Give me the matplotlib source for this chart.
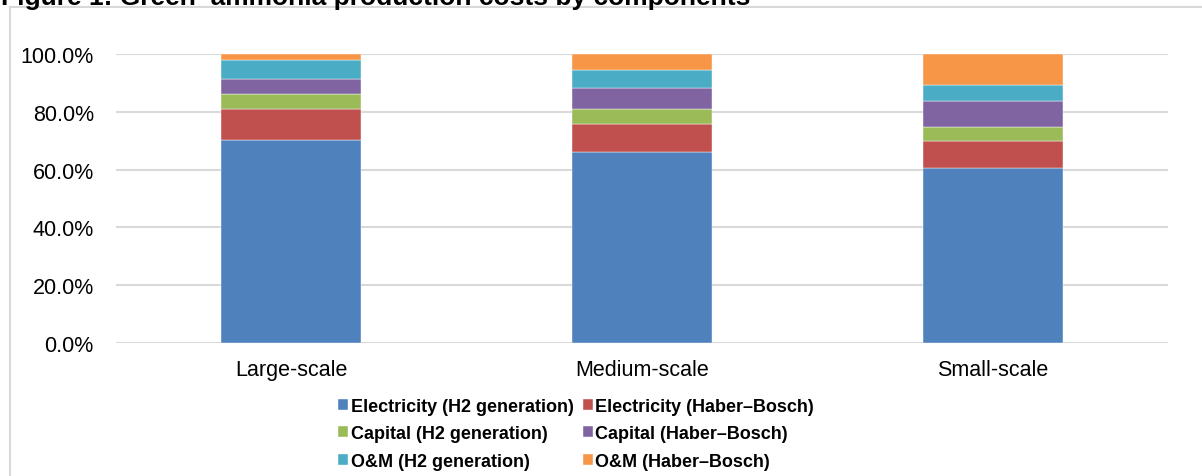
import matplotlib
matplotlib.use("Agg")
import matplotlib.pyplot as plt
from matplotlib.lines import Line2D
from matplotlib.ticker import FuncFormatter

plt.rcParams["font.family"] = ["Liberation Sans", "DejaVu Sans"]

# cost shares (%) per plant size
categories = ["Large-scale", "Medium-scale", "Small-scale"]
series_names = [
    "Electricity (H2 generation)",
    "Electricity (Haber\u2013Bosch)",
    "Capital (H2 generation)",
    "Capital (Haber\u2013Bosch)",
    "O&M (H2 generation)",
    "O&M (Haber\u2013Bosch)",
]
elec_h2 = [70.2, 65.9, 60.6]
elec_hb = [10.7, 9.9, 9.3]
cap_h2 = [5.3, 5.0, 4.7]
cap_hb = [5.2, 7.5, 9.1]
om_h2 = [6.5, 6.2, 5.6]
om_hb = [2.1, 5.5, 10.7]
series_values = [elec_h2, elec_hb, cap_h2, cap_hb, om_h2, om_hb]
colors = ["#4F81BD", "#C0504D", "#9BBB59", "#8064A2", "#4BACC6", "#F79646"]
y_ticks = [0, 20, 40, 60, 80, 100]

W, H = 1202, 477
fig = plt.figure(figsize=(W / 100, H / 100), dpi=100)
ax = fig.add_axes([116 / W, 1 - 344.3 / H, 1052 / W, 289.6 / H])

x = range(len(categories))
bottom = [0.0] * len(categories)
bars = []
for name, vals, col in zip(series_names, series_values, colors):
    b = ax.bar(x, vals, width=0.4, bottom=bottom, color=col, label=name,
               edgecolor="#ffffff", linewidth=0.3, zorder=3)
    bars.append(b)
    bottom = [b0 + v for b0, v in zip(bottom, vals)]

ax.set_xlim(-0.5, len(categories) - 0.5)
ax.set_ylim(0, 100)
ax.set_yticks(y_ticks)
ax.yaxis.set_major_formatter(FuncFormatter(lambda v, _: f"{v:.1f}%"))
ax.set_xticks(list(x))
ax.set_xticklabels(categories)
ax.tick_params(axis="both", length=0, labelsize=15.5, colors="#000000")
ax.tick_params(axis="y", pad=16)
ax.tick_params(axis="x", pad=11)
ax.grid(axis="y", color="#D9D9D9", linewidth=1.5, zorder=0)
for side in ["top", "right", "left", "bottom"]:
    ax.spines[side].set_visible(False)

# legend laid out row by row: H2 items on the left, Haber-Bosch on the right
order = [0, 2, 4, 1, 3, 5]
handles = [bars[i] for i in order]
labels = [series_names[i] for i in order]
fig.legend(handles, labels, ncol=2, frameon=False, loc="upper left",
           bbox_to_anchor=(329 / W, 1 - 390 / H), borderpad=0,
           prop={"weight": "bold", "size": 13},
           handlelength=0.55, handleheight=0.55, handletextpad=0.15,
           columnspacing=0.5, labelspacing=0.57)

# chart area border (top and left edges)
border = "#D9D9D9"
fig.add_artist(Line2D([9.5 / W, 1], [1 - 7.5 / H, 1 - 7.5 / H],
                      color=border, linewidth=1.5))
fig.add_artist(Line2D([9.5 / W, 9.5 / W], [0, 1 - 7.5 / H],
                      color=border, linewidth=1.5))

fig.text(1 / W, 1 - 5 / H, "Figure 1: Green  ammonia production costs by components",
         fontsize=19, fontweight="bold", va="baseline", ha="left")

fig.savefig("out.png", dpi=100)
